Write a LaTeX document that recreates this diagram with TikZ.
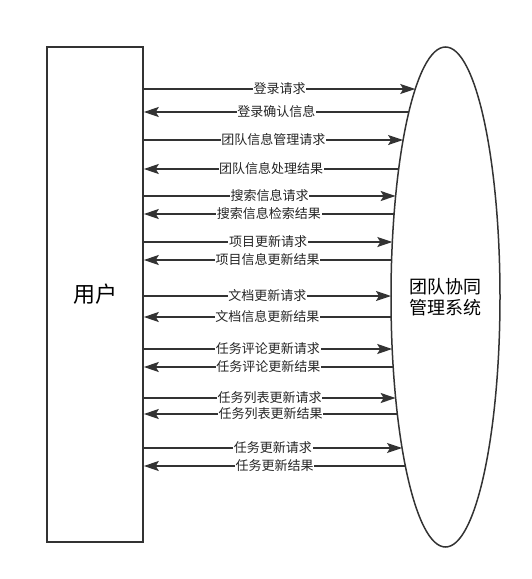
\documentclass[tikz,border=0pt]{standalone}
\usepackage{fontspec}
\newfontfamily\cjk{Noto Sans CJK SC}
\usetikzlibrary{arrows.meta,shapes.geometric}

\begin{document}
\begin{tikzpicture}[x=1pt,y=-1pt,
    box/.style={draw=black!80,line width=1.6pt,minimum width=96pt,minimum height=495pt,inner sep=0pt},
    sysnode/.style={draw=black!80,line width=1.5pt,ellipse,minimum width=109pt,minimum height=500pt,inner sep=0pt,align=center},
    flow/.style={draw=black!80,line width=1.5pt},
    tip/.style={-{Stealth[length=15pt,width=10pt,inset=3pt]}},
    lbl/.style={fill=white,inner sep=0.6pt,font=\cjk\fontsize{13}{15}\selectfont,text=black!85}]

    \useasboundingbox (0,0) rectangle (532,579);

    \node [box,font=\cjk\fontsize{22}{26}\selectfont] (user) at (95,294.5) {用户};
    \node [sysnode,font=\cjk\fontsize{18}{21}\selectfont] (sys) at (445.5,297) {团队协同\\管理系统};

    % requests
    \foreach \y/\txt [count=\i] in {89/登录请求,140/团队信息管理请求,196/搜索信息请求,242/项目更新请求,
                                    296/文档更新请求,349/任务评论更新请求,398/任务列表更新请求,448/任务更新请求}{%
        \pgfmathsetmacro\xe{445.5-54.5*sqrt(1-((\y-297)/250)^2)}
        \coordinate (req\i) at (\xe,\y);
        \draw [flow,tip] (user.east |- req\i) -- (req\i) node [lbl,midway] (reqlbl\i) {\txt};
    }

    % results
    \foreach \y/\txt [count=\i] in {112/登录确认信息,169/团队信息处理结果,214/搜索信息检索结果,260/项目信息更新结果,
                                    317/文档信息更新结果,367/任务评论更新结果,414/任务列表更新结果,466/任务更新结果}{%
        \pgfmathsetmacro\xe{445.5-54.5*sqrt(1-((\y-297)/250)^2)}
        \coordinate (res\i) at (\xe,\y);
        \draw [flow,tip] (res\i) -- (user.east |- res\i) node [lbl,midway] (reslbl\i) {\txt};
    }

\end{tikzpicture}
\end{document}
